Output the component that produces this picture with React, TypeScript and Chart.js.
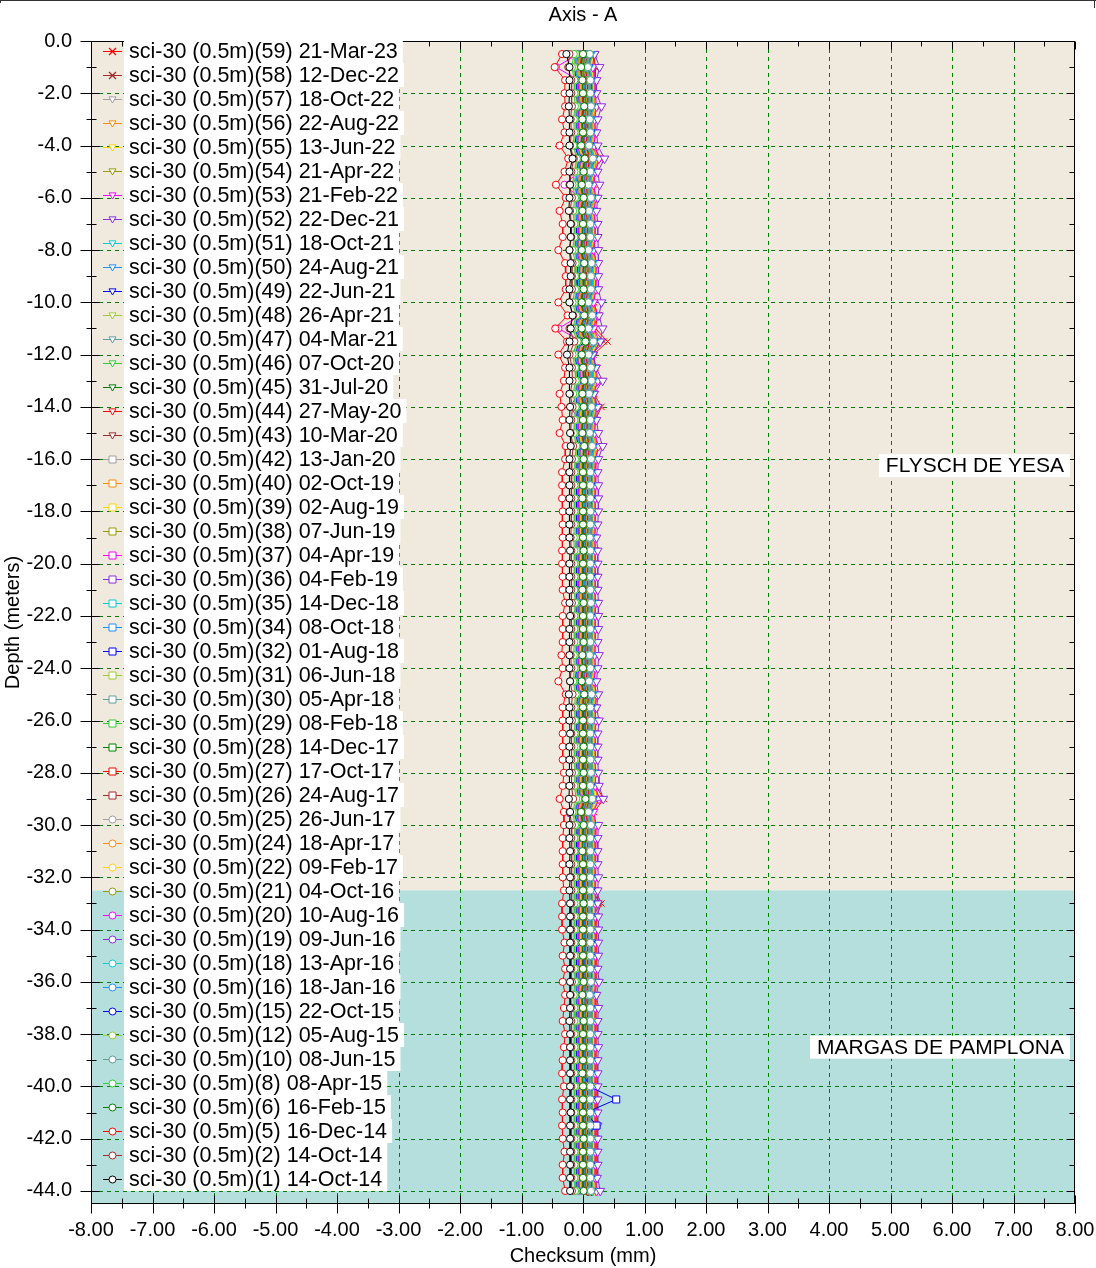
import React, { useEffect, useRef } from "react";
import { Chart, registerables } from "chart.js";

Chart.register(...registerables);

const FONT = '"Liberation Sans", Arial, Helvetica, sans-serif';

// ---------- data ----------
const DEPTHS = [
  -0.5, -1, -1.5, -2, -2.5, -3, -3.5, -4, -4.5, -5, -5.5,
  -6, -6.5, -7, -7.5, -8, -8.5, -9, -9.5, -10, -10.5, -11,
  -11.5, -12, -12.5, -13, -13.5, -14, -14.5, -15, -15.5, -16, -16.5,
  -17, -17.5, -18, -18.5, -19, -19.5, -20, -20.5, -21, -21.5, -22,
  -22.5, -23, -23.5, -24, -24.5, -25, -25.5, -26, -26.5, -27, -27.5,
  -28, -28.5, -29, -29.5, -30, -30.5, -31, -31.5, -32, -32.5, -33,
  -33.5, -34, -34.5, -35, -35.5, -36, -36.5, -37, -37.5, -38, -38.5,
  -39, -39.5, -40, -40.5, -41, -41.5, -42, -42.5, -43, -43.5, -44,
];

const X_TICKS = [-8, -7, -6, -5, -4, -3, -2, -1, 0, 1, 2, 3, 4, 5, 6, 7, 8];
const Y_TICKS = [0, -2, -4, -6, -8, -10, -12, -14, -16, -18, -20, -22, -24, -26, -28, -30, -32, -34, -36, -38, -40, -42, -44];
const X_MIN = -8;
const X_MAX = 8;
const Y_MIN = -44.5;
const Y_MAX = 0;

const LAYER_NAMES = ["FLYSCH DE YESA", "MARGAS DE PAMPLONA"];
const LAYER_TOPS = [0, -32.5];
const LAYER_BOTTOMS = [-32.5, -44.5];

const SERIES_IDS = [59, 58, 57, 56, 55, 54, 53, 52, 51, 50, 49, 48, 47, 46, 45, 44, 43, 42, 40, 39, 38, 37, 36, 35, 34, 32, 31, 30, 29, 28, 27, 26, 25, 24, 22, 21, 20, 19, 18, 16, 15, 12, 10, 8, 6, 5, 2, 1];
const SERIES_DATES = [
  "21-Mar-23", "12-Dec-22", "18-Oct-22", "22-Aug-22", "13-Jun-22", "21-Apr-22", "21-Feb-22", "22-Dec-21",
  "18-Oct-21", "24-Aug-21", "22-Jun-21", "26-Apr-21", "04-Mar-21", "07-Oct-20", "31-Jul-20", "27-May-20",
  "10-Mar-20", "13-Jan-20", "02-Oct-19", "02-Aug-19", "07-Jun-19", "04-Apr-19", "04-Feb-19", "14-Dec-18",
  "08-Oct-18", "01-Aug-18", "06-Jun-18", "05-Apr-18", "08-Feb-18", "14-Dec-17", "17-Oct-17", "24-Aug-17",
  "26-Jun-17", "18-Apr-17", "09-Feb-17", "04-Oct-16", "10-Aug-16", "09-Jun-16", "13-Apr-16", "18-Jan-16",
  "22-Oct-15", "05-Aug-15", "08-Jun-15", "08-Apr-15", "16-Feb-15", "16-Dec-14", "14-Oct-14", "14-Oct-14",
];

// checksum values in hundredths of a millimetre, one per depth in DEPTHS
const S59 = [18,20,20,19,21,19,20,18,28,19,18, 20,18,20,19,18,21,20,20,18,24,20, 40,17,20,23,18,30,20,19,24,21,20, 20,20,20,20,19,20,20,20,20,21,20, 20,20,19,20,18,22,20,21,20,20,20, 21,20,34,18,21,20,20,20,20,20,30, 22,21,21,21,21,22,20,21,21,21,21, 21,21,21,21,21,21,21,21,21,21,22];
const S58 = [16,19,17,17,19,16,17,15,24,17,15, 18,15,17,17,14,19,18,18,14,22,16, 34,14,18,20,15,22,17,16,21,18,17, 17,17,17,17,16,17,17,17,17,18,17, 17,17,16,17,15,19,17,18,17,17,17, 18,17,28,14,18,17,17,17,17,17,26, 18,17,17,17,17,18,16,17,17,17,17, 17,17,17,17,17,17,17,17,17,17,18];
const S57 = [15,12,16,16,17,15,16,14,20,16,13, 17,14,16,16,13,18,17,17,13,19,13, 21,13,17,18,14,18,16,15,19,17,16, 16,16,16,16,15,16,16,16,16,17,16, 16,16,15,16,14,18,16,17,16,16,16, 17,16,19,13,17,16,16,16,16,16,16, 16,16,16,16,16,17,15,16,16,16,16, 16,16,16,16,16,16,16,16,16,16,17];
const S56 = [18,15,19,20,20,18,19,17,23,19,16, 20,17,19,19,16,21,20,20,16,22,16, 24,16,20,21,17,21,19,18,22,20,19, 19,19,19,19,18,19,19,20,19,20,19, 19,19,18,19,17,21,19,20,19,19,19, 20,19,24,16,20,19,19,19,19,19,21, 19,19,20,19,19,20,18,19,19,19,19, 19,19,19,19,19,19,19,19,19,19,20];
const S55 = [16,13,17,17,18,16,17,15,21,17,14, 18,15,17,17,14,19,18,18,14,20,14, 22,14,18,19,15,19,17,16,20,18,17, 17,17,17,17,16,17,17,17,17,18,17, 17,17,16,17,15,19,17,18,17,17,17, 18,17,20,14,18,17,17,17,17,17,17, 17,17,17,17,17,18,16,17,17,17,17, 17,17,17,17,17,17,17,17,17,17,18];
const S54 = [14,11,15,15,16,14,15,13,19,15,12, 16,13,15,15,12,17,16,16,12,18,12, 20,12,16,17,13,17,15,14,18,16,15, 15,15,15,15,14,15,15,15,15,16,15, 15,15,14,15,13,17,15,16,15,15,15, 16,15,18,12,16,15,15,15,15,15,15, 15,15,15,15,15,16,14,15,15,15,15, 15,15,15,15,15,15,15,15,15,15,16];
const S53 = [18,16,20,20,22,19,20,18,26,20,17, 21,18,20,20,17,22,21,21,17,24,17, 27,17,21,24,18,22,20,19,25,21,20, 20,20,20,20,19,20,20,20,20,21,20, 20,20,19,20,18,22,20,21,20,20,20, 21,20,26,17,21,20,20,20,20,20,20, 20,20,20,20,20,21,19,20,20,20,20, 20,20,20,20,20,20,20,20,20,20,22];
const S52 = [19,27,22,22,30,24,22,24,35,24,27, 24,22,24,24,25,25,25,25,30,26,32, 28,16,21,32,18,24,22,25,32,25,24, 25,25,25,24,22,24,24,24,24,25,25, 25,24,26,24,22,25,22,26,24,24,24, 25,26,33,-24,25,24,24,24,25,24,24, 25,25,25,25,24,26,22,25,24,24,25, 24,24,24,24,24,24,24,24,24,23,28];
const S51 = [13,10,14,14,15,13,14,12,18,14,11, 15,12,14,14,11,16,15,15,11,17,11, 19,11,15,16,12,16,14,13,17,15,14, 14,14,14,14,13,14,14,14,14,15,14, 14,14,13,14,12,16,14,15,14,14,14, 15,14,17,11,15,14,14,14,14,14,14, 14,14,14,14,14,15,13,14,14,14,14, 14,14,14,14,14,14,14,14,14,14,15];
const S50 = [12,9,13,13,14,12,13,11,17,13,10, 14,11,13,13,10,15,14,14,10,16,10, 18,10,14,15,11,15,13,12,16,14,13, 13,13,13,13,12,13,13,13,13,14,13, 13,13,12,13,11,15,13,14,13,13,13, 14,13,16,10,14,13,13,13,13,13,13, 13,13,13,13,13,14,12,13,13,13,13, 13,13,13,13,13,13,13,13,13,13,14];
const S49 = [11,8,12,13,13,11,12,10,16,12,9, 13,10,12,11,9,14,13,13,9,15,9, 17,9,13,14,10,14,12,11,15,13,12, 12,13,12,11,11,12,12,13,12,13,12, 12,11,11,12,10,14,12,13,12,12,11, 13,12,15,9,13,12,12,11,12,13,12, 12,12,13,12,12,13,11,12,12,11,12, 12,12,12,13,12,12,12,11,12,12,13];
const S48 = [10,7,11,11,12,10,11,9,15,11,8, 12,9,11,12,8,13,12,12,8,14,8, 16,8,12,13,9,13,11,10,14,12,11, 11,11,12,11,10,11,11,11,12,12,11, 11,12,10,11,9,13,11,12,11,11,12, 12,11,14,8,12,11,11,12,11,11,11, 11,12,11,11,11,12,10,11,12,11,11, 11,11,12,11,11,11,12,11,11,11,12];
const S47 = [9,6,10,10,11,9,10,8,14,10,7, 11,8,10,10,7,12,11,11,7,13,7, 15,7,11,12,8,12,10,9,13,11,10, 10,10,10,11,9,10,10,10,10,11,10, 10,10,9,10,8,12,10,11,10,10,10, 11,10,13,7,11,10,10,10,10,10,10, 10,10,10,11,10,11,9,10,10,10,10, 10,10,10,10,10,11,10,10,10,10,11];
const S46 = [8,5,9,9,10,8,9,7,13,9,6, 10,7,9,9,6,11,10,10,6,12,6, 14,6,10,11,7,11,9,8,12,10,9, 9,9,9,9,8,9,10,9,9,10,9, 9,9,8,9,7,11,9,10,9,9,9, 10,9,12,6,10,9,9,9,10,9,9, 9,9,9,9,9,10,8,9,9,9,9, 9,9,9,9,9,9,9,9,10,9,10];
const S45 = [7,4,8,8,9,7,8,6,12,8,5, 9,6,8,8,5,10,9,9,5,11,5, 13,5,9,10,6,10,8,7,11,9,8, 8,8,8,8,7,8,8,8,8,9,8, 8,8,7,8,6,10,8,9,8,8,8, 9,8,11,5,9,8,8,8,8,8,8, 8,8,8,8,8,9,7,8,8,8,8, 8,8,8,8,8,8,8,8,8,8,9];
const S44 = [6,3,7,7,8,6,7,5,11,7,4, 8,5,7,7,4,9,8,8,4,10,4, 12,4,8,9,5,9,7,6,10,8,7, 7,7,7,7,6,7,7,7,7,8,7, 7,7,6,7,5,9,7,8,7,7,7, 8,7,10,4,8,7,7,7,7,7,7, 7,7,7,7,7,8,6,7,7,7,7, 7,7,7,7,7,7,7,7,7,7,8];
const S43 = [5,2,6,6,7,5,6,4,10,6,3, 7,4,6,6,3,8,7,7,3,9,3, 11,3,7,8,4,8,6,5,9,7,6, 6,6,6,6,5,6,6,6,6,7,6, 6,6,5,6,4,8,6,7,6,6,6, 7,6,9,3,7,6,6,6,6,6,6, 6,6,6,6,6,7,5,6,6,6,6, 6,6,6,6,6,6,6,6,6,6,7];
const S42 = [4,1,5,5,6,4,5,3,9,5,2, 6,3,5,5,2,7,6,6,2,8,2, 10,2,6,7,3,7,5,4,8,6,5, 5,5,5,6,4,5,5,5,5,6,5, 5,5,4,5,3,7,5,6,5,5,5, 6,5,8,2,6,5,5,5,5,5,5, 5,5,5,5,5,6,4,5,5,5,5, 5,5,5,5,5,5,5,5,5,5,6];
const S40 = [5,2,4,5,7,4,5,2,8,6,3, 6,4,5,4,3,7,5,6,3,7,3, 9,3,5,7,4,6,5,4,7,6,5, 5,4,5,5,5,6,5,5,4,6,5, 5,6,4,5,3,7,5,5,5,6,5, 6,5,9,2,6,5,4,5,5,5,6, 5,5,4,5,5,6,4,5,6,5,5, 5,4,5,5,5,5,6,5,5,5,6];
const S39 = [3,0,4,4,5,3,4,2,8,4,1, 5,2,4,4,1,6,5,5,1,7,1, 9,1,5,6,2,6,4,3,7,5,4, 4,4,4,4,3,4,4,4,4,5,4, 4,4,3,4,2,6,4,5,4,4,4, 5,4,7,1,5,4,4,4,4,4,4, 4,4,4,4,4,5,3,4,4,4,4, 4,4,4,4,4,4,4,4,4,4,5];
const S38 = [4,1,3,4,6,3,4,1,7,5,2, 5,3,4,3,2,6,4,5,2,6,2, 8,2,4,6,3,5,4,3,6,5,4, 4,3,4,4,4,5,4,4,3,5,4, 4,5,3,4,2,6,4,4,4,5,4, 5,4,8,1,5,4,3,4,4,4,5, 4,4,3,4,4,5,3,4,5,4,4, 4,3,4,4,4,4,5,4,4,4,5];
const S37 = [2,-1,3,3,4,2,3,1,7,3,0, 4,1,3,3,0,5,4,4,0,6,0, 8,0,4,5,1,5,3,2,6,4,3, 3,3,3,3,2,3,3,3,3,4,3, 3,3,2,3,1,5,3,4,3,3,3, 4,3,6,0,4,3,3,3,3,3,3, 3,3,3,3,3,4,2,3,3,3,3, 3,3,3,3,3,3,3,3,3,3,4];
const S36 = [3,0,2,3,5,2,3,0,6,4,1, 4,2,3,2,1,5,3,4,1,5,1, 7,1,3,5,2,4,3,2,5,4,3, 3,2,3,3,3,4,3,3,2,4,3, 3,4,2,3,1,5,3,3,3,4,3, 4,3,7,0,4,3,2,3,3,3,4, 3,3,2,3,3,4,2,3,4,3,3, 3,2,3,3,3,3,4,3,3,3,4];
const S35 = [1,-2,2,2,3,1,2,0,6,2,-1, 3,0,2,2,-1,4,3,3,-1,5,-1, 7,-1,3,4,0,4,2,1,5,3,2, 2,2,2,2,1,2,2,2,2,3,2, 2,2,1,2,0,4,2,3,2,2,2, 3,2,5,-1,3,2,2,2,2,2,2, 2,2,2,2,2,3,1,2,2,2,2, 2,2,2,2,2,2,2,2,2,2,3];
const S34 = [2,-1,1,2,4,1,2,-1,5,3,0, 3,1,2,1,0,4,2,3,0,4,0, 6,0,2,4,1,3,2,1,4,3,2, 2,1,2,2,2,3,2,2,1,3,2, 2,3,1,2,0,4,2,2,2,3,2, 3,2,6,-1,3,2,1,2,2,2,3, 2,2,1,2,2,3,1,2,3,2,2, 2,1,2,2,2,2,3,2,2,2,3];
const S32 = [0,-3,1,1,2,0,1,-1,5,1,-2, 2,-1,1,1,-2,3,2,2,-2,4,-2, 6,-2,2,3,-1,3,1,0,4,2,1, 1,1,1,1,0,1,1,1,1,2,1, 1,1,0,1,-1,3,1,2,1,1,1, 2,1,4,-2,2,1,1,1,1,1,1, 1,1,1,1,1,2,0,1,1,1,1, 1,1,10,54,5,22,2,1,1,1,2];
const S31 = [1,-2,0,1,3,0,1,-2,4,2,-1, 2,0,1,0,-1,3,1,2,-1,3,-1, 5,-1,1,3,0,2,1,0,3,2,1, 1,0,1,1,1,2,1,1,0,2,1, 1,2,0,1,-1,3,1,1,1,2,1, 2,1,5,-2,2,1,0,1,1,1,2, 1,1,0,1,1,2,0,1,2,1,1, 1,0,1,1,1,1,2,1,1,1,2];
const S30 = [8,5,9,9,10,8,9,7,13,9,6, 10,7,9,9,6,11,10,10,6,12,6, 14,6,10,11,7,11,9,8,12,10,9, 9,9,9,9,8,9,9,9,9,10,9, 9,9,8,9,7,11,9,10,9,9,9, 10,9,12,6,10,9,9,9,9,9,9, 9,9,9,9,9,10,8,9,9,9,9, 9,9,9,9,9,9,9,9,9,9,10];
const S29 = [-1,-4,0,0,1,-1,0,-2,4,0,-3, 1,-2,0,0,-3,2,1,1,-3,3,-3, 5,-3,1,2,-2,2,0,-1,3,1,0, 0,0,0,0,-1,0,0,0,0,1,0, 0,0,-1,0,-2,2,0,1,0,0,0, 1,0,3,-3,1,0,0,0,0,0,0, 0,0,0,0,0,1,-1,0,0,0,0, 0,0,0,0,0,0,0,0,0,0,1];
const S28 = [-1,-4,-2,-1,1,-2,-1,-4,2,0,-3, 0,-2,-1,-2,-3,1,-1,0,-3,1,-3, 3,-3,-1,1,-2,0,-1,-2,1,0,-1, -1,-2,-1,-1,-1,0,-1,-1,-2,0,-1, -1,0,-2,-1,-3,1,-1,-1,-1,0,-1, 0,-1,3,-4,0,-1,-2,-1,-1,-1,0, -1,-1,-2,-1,-1,0,-2,-1,0,-1,-1, -1,-2,-1,-1,-1,-1,0,-1,-1,-1,0];
const S27 = [-2,-5,-1,-1,0,-2,-1,-3,3,-1,-4, 0,-3,-1,-1,-4,1,0,0,-4,2,-4, 4,-4,0,1,-3,1,-1,-2,2,0,-1, -1,-1,-1,-1,-2,-1,-1,-1,-1,0,-1, -1,-1,-2,-1,-3,1,-1,0,-1,-1,-1, 0,-1,2,-4,0,-1,-1,-1,-1,-1,-1, -1,-1,-1,-1,-1,0,-2,-1,-1,-1,-1, -1,-1,-1,-1,-1,-1,-1,-1,-1,-1,0];
const S26 = [-3,-6,-2,-2,-1,-3,-2,-4,2,-2,-5, -1,-4,-2,-2,-5,0,-1,-1,-5,1,-5, 3,-5,-1,0,-4,0,-2,-3,1,-1,-2, -2,-2,-2,-2,-3,-2,-2,-2,-2,-1,-2, -2,-2,-3,-2,-4,0,-2,-1,-2,-2,-2, -1,-2,1,-5,-1,-2,-2,-2,-2,-2,-2, -2,-2,-2,-2,-2,-1,-3,-2,-2,-2,-2, -2,-2,-2,-2,-2,-2,-2,-2,-2,-2,-1];
const S25 = [-4,-7,-3,-3,-2,-4,-3,-5,1,-3,-6, -2,-5,-3,-3,-6,-1,-2,-2,-6,0,-6, 2,-6,-2,-1,-5,-1,-3,-4,0,-2,-3, -3,-3,-3,-3,-4,-3,-3,-3,-3,-2,-3, -3,-3,-4,-3,-5,-1,-3,-2,-3,-3,-3, -2,-3,0,-6,-2,-3,-3,-3,-3,-3,-3, -3,-3,-3,-3,-3,-2,-4,-3,-3,-3,-3, -3,-3,-3,-3,-3,-3,-3,-3,-3,-3,-2];
const S24 = [-4,-7,-5,-4,-2,-5,-4,-7,-1,-3,-6, -3,-5,-4,-5,-6,-2,-4,-3,-6,-2,-6, 0,-6,-4,-2,-5,-3,-4,-5,-2,-3,-4, -4,-5,-4,-4,-4,-3,-4,-4,-5,-3,-4, -4,-3,-5,-4,-6,-2,-4,-4,-4,-3,-4, -3,-4,0,-7,-3,-4,-5,-4,-4,-4,-3, -4,-4,-5,-4,-4,-3,-5,-4,-3,-4,-4, -4,-5,-4,-4,-4,-4,-3,-4,-4,-4,-3];
const S22 = [-6,-9,-5,-5,-4,-6,-5,-7,-1,-5,-8, -4,-7,-5,-5,-8,-3,-4,-4,-8,-2,-8, 0,-8,-4,-3,-7,-3,-5,-6,-2,-4,-5, -5,-5,-5,-5,-6,-5,-5,-5,-5,-4,-5, -5,-5,-6,-5,-7,-3,-5,-4,-5,-5,-5, -4,-5,-2,-8,-4,-5,-5,-5,-5,-5,-5, -5,-5,-5,-5,-5,-4,-6,-5,-5,-5,-5, -5,-5,-5,-5,-5,-5,-5,-5,-5,-5,-4];
const S21 = [-6,-9,-7,-6,-4,-7,-6,-9,-3,-5,-8, -5,-7,-6,-7,-8,-4,-6,-5,-8,-4,-8, -2,-8,-6,-4,-7,-5,-6,-7,-4,-5,-6, -6,-7,-6,-6,-6,-5,-6,-6,-7,-5,-6, -6,-5,-7,-6,-8,-4,-6,-6,-6,-5,-6, -5,-6,-2,-9,-5,-6,-7,-6,-6,-6,-5, -6,-6,-7,-6,-6,-5,-7,-6,-5,-6,-6, -6,-7,-6,-6,-6,-6,-5,-6,-6,-6,-5];
const S20 = [-8,-44,-7,-7,-6,-8,-7,-9,-3,-7,-30, -6,-9,-7,-7,-10,-5,-6,-6,-10,-4,-40, -2,-10,-6,-5,-9,-20,-7,-8,-4,-6,-7, -7,-7,-7,-7,-8,-7,-7,-7,-7,-6,-7, -7,-7,-8,-7,-9,-5,-7,-6,-7,-7,-7, -6,-7,-4,-10,-6,-7,-7,-7,-7,-7,-7, -7,-7,-7,-7,-7,-6,-8,-7,-7,-7,-7, -7,-7,-7,-7,-7,-7,-7,-7,-7,-7,-6];
const S19 = [-8,-11,-9,-8,-6,-9,-8,-11,-5,-7,-10, -7,-9,-8,-9,-10,-6,-8,-7,-10,-6,-10, -4,-10,-8,-6,-9,-7,-8,-9,-6,-7,-8, -8,-9,-8,-8,-8,-7,-8,-8,-9,-7,-8, -8,-7,-9,-8,-10,-6,-8,-8,-8,-7,-8, -7,-8,-4,-11,-7,-8,-9,-8,-8,-8,-7, -8,-8,-9,-8,-8,-7,-9,-8,-7,-8,-8, -8,-9,-8,-8,-8,-8,-7,-8,-8,-8,-7];
const S18 = [-10,-13,-9,-9,-8,-10,-9,-11,-5,-9,-12, -8,-11,-9,-9,-12,-7,-8,-8,-12,-6,-12, -4,-12,-8,-7,-11,-7,-9,-10,-6,-8,-9, -9,-9,-9,-9,-10,-9,-9,-9,-9,-8,-9, -9,-9,-10,-9,-11,-7,-9,-8,-9,-9,-9, -8,-9,-6,-12,-8,-9,-9,-9,-9,-9,-9, -9,-9,-9,-9,-9,-8,-10,-9,-9,-9,-9, -9,-9,-9,-9,-9,-9,-9,-9,-9,-9,-8];
const S16 = [-10,-13,-11,-10,-8,-11,-10,-13,-7,-9,-12, -9,-11,-10,-11,-12,-8,-10,-9,-12,-8,-12, -6,-12,-10,-8,-11,-9,-10,-11,-8,-9,-10, -10,-11,-10,-10,-10,-9,-10,-10,-11,-9,-10, -10,-9,-11,-10,-12,-8,-10,-10,-10,-9,-10, -9,-10,-6,-13,-9,-10,-11,-10,-10,-10,-9, -10,-10,-11,-10,-10,-9,-11,-10,-9,-10,-10, -10,-11,-10,-10,-10,-10,-9,-10,-10,-10,-9];
const S15 = [-12,-15,-11,-11,-10,-12,-11,-13,-7,-11,-14, -10,-13,-11,-11,-14,-9,-10,-10,-14,-8,-14, -6,-14,-10,-9,-13,-9,-11,-12,-8,-10,-11, -11,-11,-11,-11,-12,-11,-11,-11,-11,-10,-11, -11,-11,-12,-11,-13,-9,-11,-10,-11,-11,-11, -10,-11,-8,-14,-10,-11,-11,-11,-11,-11,-11, -11,-11,-11,-11,-11,-10,-12,-11,-11,-11,-11, -11,-11,-11,-11,-11,-11,-11,-11,-11,-11,-10];
const S12 = [-12,-15,-13,-12,-10,-13,-12,-15,-9,-11,-14, -11,-13,-12,-13,-14,-10,-12,-11,-14,-10,-14, -8,-14,-12,-10,-13,-11,-12,-13,-10,-11,-12, -12,-13,-12,-12,-12,-11,-12,-12,-13,-11,-12, -12,-11,-13,-12,-14,-10,-12,-12,-12,-11,-12, -11,-12,-8,-15,-11,-12,-13,-12,-12,-12,-11, -12,-12,-13,-12,-12,-11,-13,-12,-11,-12,-12, -12,-13,-12,-12,-12,-12,-11,-12,-12,-12,-11];
const S10 = [11,8,12,12,13,11,12,10,16,12,9, 13,10,12,12,9,14,13,13,9,15,9, 17,9,13,14,10,14,12,11,15,13,12, 12,12,12,12,11,12,12,12,12,13,12, 12,12,11,12,10,14,12,13,12,12,12, 13,12,15,9,13,12,12,12,12,12,12, 12,12,12,12,12,13,11,12,12,12,12, 12,12,12,12,12,12,12,12,12,12,13];
const S8 = [-15,-18,-14,-14,-13,-15,-14,-16,-10,-14,-17, -13,-16,-14,-14,-17,-12,-13,-13,-17,-11,-17, -9,-17,-13,-12,-16,-12,-14,-15,-11,-13,-14, -14,-14,-14,-14,-15,-14,-14,-14,-14,-13,-14, -14,-14,-15,-14,-16,-12,-14,-13,-14,-14,-14, -13,-14,-11,-17,-13,-14,-14,-14,-14,-14,-14, -14,-14,-14,-14,-14,-13,-15,-14,-14,-14,-14, -14,-14,-14,-14,-14,-14,-14,-14,-14,-14,-13];
const S6 = [0,-3,-1,0,2,-1,0,-3,3,1,-2, 1,-1,0,-1,-2,2,0,1,-2,2,-2, 4,-2,0,2,-1,1,0,-1,2,1,0, 0,-1,0,0,0,1,0,0,-1,1,0, 0,1,-1,0,-2,2,0,0,0,1,0, 1,0,4,-3,1,0,-1,0,0,0,1, 0,0,-1,0,0,1,-1,0,1,0,0, 0,-1,0,0,0,0,1,0,0,0,1];
const S5 = [-34,-46,-29,-30,-29,-34,-30,-38,-24,-30,-44, -28,-38,-33,-33,-40,-29,-28,-28,-40,-25,-45, -26,-40,-29,-31,-38,-35,-33,-38,-28,-29,-34, -34,-34,-33,-33,-33,-34,-34,-33,-33,-29,-33, -33,-33,-35,-33,-40,-28,-33,-33,-33,-33,-33, -31,-33,-38,-31,-31,-33,-33,-33,-33,-31,-34, -34,-34,-30,-33,-29,-33,-29,-31,-33,-29,-31, -33,-34,-31,-34,-33,-34,-33,-30,-33,-33,-29];
const S2 = [-22,-24,-19,-19,-18,-20,-19,-21,-15,-19,-22, -18,-21,-19,-19,-22,-17,-18,-18,-22,-16,-22, -14,-22,-18,-17,-21,-17,-19,-20,-16,-18,-19, -19,-19,-19,-19,-20,-19,-19,-19,-19,-18,-19, -19,-19,-20,-19,-21,-17,-19,-18,-19,-19,-19, -18,-19,-16,-22,-18,-19,-19,-19,-19,-19,-19, -19,-19,-19,-19,-19,-18,-20,-19,-19,-19,-19, -19,-19,-19,-19,-19,-19,-19,-19,-19,-19,-18];
const S1 = [-27,-22,-22,-22,-23,-22,-22,-22,-17,-22,-21, -22,-23,-20,-20,-22,-20,-20,-22,-22,-17,-20, -22,-26,-22,-22,-22,-21,-22,-21,-20,-22,-22, -22,-22,-22,-22,-22,-21,-22,-22,-22,-22,-21, -22,-22,-22,-22,-21,-23,-22,-22,-21,-22,-22, -22,-22,-23,-21,-22,-22,-21,-22,-21,-22,-21, -21,-21,-21,-21,-21,-21,-21,-21,-22,-21,-21, -21,-21,-21,-21,-20,-21,-21,-21,-21,-21,-21];

const SERIES_VALUES = [S59, S58, S57, S56, S55, S54, S53, S52, S51, S50, S49, S48, S47, S46, S45, S44, S43, S42, S40, S39, S38, S37, S36, S35, S34, S32, S31, S30, S29, S28, S27, S26, S25, S24, S22, S21, S20, S19, S18, S16, S15, S12, S10, S8, S6, S5, S2, S1];

// ---------- styles ----------
const PALETTE = ["#FF0000", "#A52A2A", "#A0A0A0", "#FF8C00", "#FFD700", "#999900", "#FF00FF", "#8A2BE2", "#00CED1", "#1E90FF", "#0000FF", "#9ACD32", "#5F9EA0", "#32CD32", "#008000"];
const LAST_COLOR = "#000000";
const LAYER_COLORS = ["#EFE9DE", "#B5DFDD"];
const GRID_COLOR = "#008000";

function colorOf(i: number) {
  return i === SERIES_IDS.length - 1 ? LAST_COLOR : PALETTE[i % PALETTE.length];
}
function markerOf(i: number) {
  if (i < 2) return "crossRot";
  if (i < 17) return "triangleDown";
  if (i < 32) return "rect";
  return "circle";
}
function radiusOf(kind: string) {
  if (kind === "rect") return 5;
  if (kind === "triangleDown") return 5;
  if (kind === "crossRot") return 4.5;
  return 3.6;
}

function drawMarker(ctx: CanvasRenderingContext2D, kind: string, x: number, y: number, r: number, color: string) {
  ctx.save();
  ctx.setLineDash([]);
  ctx.lineWidth = 1;
  ctx.strokeStyle = color;
  ctx.fillStyle = "#ffffff";
  ctx.beginPath();
  if (kind === "circle") {
    ctx.arc(x, y, r, 0, Math.PI * 2);
    ctx.fill();
    ctx.stroke();
  } else if (kind === "rect") {
    ctx.rect(x - r, y - r, 2 * r, 2 * r);
    ctx.fill();
    ctx.stroke();
  } else if (kind === "triangleDown") {
    ctx.moveTo(x - r, y - r * 0.75);
    ctx.lineTo(x + r, y - r * 0.75);
    ctx.lineTo(x, y + r);
    ctx.closePath();
    ctx.fill();
    ctx.stroke();
  } else {
    ctx.lineWidth = 1.3;
    ctx.moveTo(x - r, y - r);
    ctx.lineTo(x + r, y + r);
    ctx.moveTo(x - r, y + r);
    ctx.lineTo(x + r, y - r);
    ctx.stroke();
  }
  ctx.restore();
}

const decorPlugin = {
  id: "decor",
  beforeDraw(chart: any) {
    const { ctx, chartArea: a, scales } = chart;
    const xs = scales.x;
    const ys = scales.y;
    ctx.save();
    ctx.fillStyle = "#ffffff";
    ctx.fillRect(0, 0, chart.width, chart.height);
    for (let i = 0; i < LAYER_NAMES.length; i++) {
      const y1 = Math.max(a.top, ys.getPixelForValue(LAYER_TOPS[i]));
      const y2 = Math.min(a.bottom, ys.getPixelForValue(LAYER_BOTTOMS[i]));
      ctx.fillStyle = LAYER_COLORS[i];
      ctx.fillRect(a.left, y1, a.right - a.left, y2 - y1);
    }
    ctx.strokeStyle = GRID_COLOR;
    ctx.lineWidth = 1;
    ctx.setLineDash([4, 4]);
    X_TICKS.forEach((v) => {
      if (v === X_MIN || v === X_MAX) return;
      const px = Math.round(xs.getPixelForValue(v)) + 0.5;
      ctx.beginPath();
      ctx.moveTo(px, a.top);
      ctx.lineTo(px, a.bottom);
      ctx.stroke();
    });
    Y_TICKS.forEach((v) => {
      if (v === Y_MAX || v === Y_MIN) return;
      const py = Math.round(ys.getPixelForValue(v)) + 0.5;
      ctx.beginPath();
      ctx.moveTo(a.left, py);
      ctx.lineTo(a.right, py);
      ctx.stroke();
    });
    ctx.restore();
  },
  afterDatasetsDraw(chart: any) {
    const { ctx, chartArea: a, scales } = chart;
    const xs = scales.x;
    const ys = scales.y;
    ctx.save();
    ctx.setLineDash([]);
    ctx.strokeStyle = "#000000";
    ctx.lineWidth = 1;
    const L = Math.round(a.left) + 0.5;
    const R = Math.round(a.right) - 0.5;
    const T = Math.round(a.top) + 0.5;
    const B = Math.round(a.bottom) - 0.5;
    const seg = (x1: number, y1: number, x2: number, y2: number) => {
      ctx.beginPath();
      ctx.moveTo(x1, y1);
      ctx.lineTo(x2, y2);
      ctx.stroke();
    };
    ctx.strokeRect(L, T, R - L, B - T);
    for (let i = 0; i < X_TICKS.length; i++) {
      const px = Math.round(xs.getPixelForValue(X_TICKS[i])) + 0.5;
      seg(px, B - 8, px, B + 10);
      seg(px, T, px, T + 8);
      if (i < X_TICKS.length - 1) {
        const pm = Math.round(xs.getPixelForValue((X_TICKS[i] + X_TICKS[i + 1]) / 2)) + 0.5;
        seg(pm, B - 5, pm, B + 5);
        seg(pm, T, pm, T + 5);
      }
    }
    for (let i = 0; i < Y_TICKS.length; i++) {
      const py = Math.round(ys.getPixelForValue(Y_TICKS[i])) + 0.5;
      seg(L - 11, py, L + 8, py);
      seg(R - 8, py, R, py);
      if (i < Y_TICKS.length - 1) {
        const pm = Math.round(ys.getPixelForValue((Y_TICKS[i] + Y_TICKS[i + 1]) / 2)) + 0.5;
        seg(L - 5, pm, L + 5, pm);
        seg(R - 5, pm, R, pm);
      }
    }

    // legend
    ctx.font = `21.5px ${FONT}`;
    ctx.textBaseline = "middle";
    ctx.textAlign = "left";
    const rowY0 = 51;
    const rowH = 24;
    for (let i = 0; i < SERIES_IDS.length; i++) {
      const cy = rowY0 + i * rowH;
      const label = `sci-30 (0.5m)(${SERIES_IDS[i]}) ${SERIES_DATES[i]}`;
      const w = ctx.measureText(label).width;
      ctx.fillStyle = "#ffffff";
      ctx.fillRect(124, cy - 12, w + 10, rowH);
      const c = colorOf(i);
      ctx.strokeStyle = c;
      ctx.lineWidth = 1;
      seg(103, Math.round(cy) + 0.5, 122, Math.round(cy) + 0.5);
      drawMarker(ctx, markerOf(i), 112.5, Math.round(cy) + 0.5, 3.5, c);
      ctx.fillStyle = "#000000";
      ctx.fillText(label, 129, cy + 1);
    }

    // layer labels
    ctx.font = `21px ${FONT}`;
    ctx.textAlign = "right";
    for (let i = 0; i < LAYER_NAMES.length; i++) {
      const cy = ys.getPixelForValue((LAYER_TOPS[i] + LAYER_BOTTOMS[i]) / 2);
      const w = ctx.measureText(LAYER_NAMES[i]).width;
      const right = a.right - 11;
      ctx.fillStyle = "#ffffff";
      ctx.fillRect(right - w - 7, cy - 11.5, w + 13, 23);
      ctx.fillStyle = "#000000";
      ctx.fillText(LAYER_NAMES[i], right, cy + 1);
    }
    ctx.restore();
  },
  afterDraw(chart: any) {
    const { ctx, chartArea: a } = chart;
    ctx.save();
    ctx.fillStyle = "#000000";
    ctx.font = `20px ${FONT}`;
    ctx.textAlign = "center";
    ctx.textBaseline = "middle";
    ctx.fillText("Axis - A", (a.left + a.right) / 2, 15);
    ctx.strokeStyle = "#333333";
    ctx.lineWidth = 1;
    ctx.beginPath();
    ctx.moveTo(0, 0.5);
    ctx.lineTo(chart.width, 0.5);
    ctx.moveTo(0.5, 0);
    ctx.lineTo(0.5, 3);
    ctx.moveTo(chart.width - 1.5, 0);
    ctx.lineTo(chart.width - 1.5, 8);
    ctx.stroke();
    ctx.restore();
  },
};

export default function App() {
  const canvasRef = useRef<HTMLCanvasElement | null>(null);

  useEffect(() => {
    document.body.style.margin = "0";
    const canvas = canvasRef.current;
    if (!canvas) return;

    const datasets = SERIES_VALUES.map((vals, i) => {
      const kind = markerOf(i);
      const c = colorOf(i);
      return {
        label: `sci-30 (0.5m)(${SERIES_IDS[i]}) ${SERIES_DATES[i]}`,
        data: DEPTHS.map((d, k) => ({ x: vals[k] / 100, y: d })),
        showLine: true,
        borderColor: c,
        backgroundColor: c,
        borderWidth: 1,
        pointStyle: kind === "triangleDown" ? "triangle" : kind,
        pointRotation: kind === "triangleDown" ? 180 : 0,
        pointRadius: radiusOf(kind),
        pointBorderColor: c,
        pointBackgroundColor: "#ffffff",
        pointBorderWidth: 1,
        tension: 0,
        order: SERIES_IDS.length - 1 - i,
      };
    });

    const tickFont = { family: FONT, size: 20 };

    const chart = new Chart(canvas, {
      type: "scatter",
      data: { datasets },
      options: {
        animation: false,
        responsive: false,
        maintainAspectRatio: false,
        events: [],
        layout: { padding: { left: 0, right: 21, top: 41, bottom: 0 } },
        plugins: {
          legend: { display: false },
          tooltip: { enabled: false },
          title: { display: false },
        },
        scales: {
          x: {
            type: "linear",
            position: "bottom",
            min: X_MIN,
            max: X_MAX,
            afterBuildTicks: (s: any) => {
              s.ticks = X_TICKS.map((v) => ({ value: v }));
            },
            afterFit: (s: any) => {
              s.height = 64;
              s.paddingLeft = 0;
              s.paddingRight = 0;
            },
            grid: { display: false },
            border: { display: false },
            ticks: {
              font: tickFont,
              color: "#000000",
              padding: 6,
              autoSkip: false,
              maxRotation: 0,
              callback: (v: any) => Number(v).toFixed(2),
            },
            title: {
              display: true,
              text: "Checksum (mm)",
              font: tickFont,
              color: "#000000",
              padding: { top: 0, bottom: 0 },
            },
          },
          y: {
            type: "linear",
            position: "left",
            min: Y_MIN,
            max: Y_MAX,
            afterBuildTicks: (s: any) => {
              s.ticks = Y_TICKS.map((v) => ({ value: v }));
            },
            afterFit: (s: any) => {
              s.width = 91;
              s.paddingTop = 0;
              s.paddingBottom = 0;
            },
            grid: { display: false },
            border: { display: false },
            ticks: {
              font: tickFont,
              color: "#000000",
              padding: 11,
              autoSkip: false,
              callback: (v: any) => Number(v).toFixed(1),
            },
            title: {
              display: true,
              text: "Depth (meters)",
              font: tickFont,
              color: "#000000",
              padding: { top: 1, bottom: 0 },
            },
          },
        },
      },
      plugins: [decorPlugin],
    } as any);

    return () => {
      chart.destroy();
    };
  }, []);

  return (
    <div style={{ position: "absolute", left: 0, top: 0, width: 1096, height: 1268, background: "#ffffff" }}>
      <canvas ref={canvasRef} width={1096} height={1268} style={{ display: "block", width: 1096, height: 1268 }} />
    </div>
  );
}
